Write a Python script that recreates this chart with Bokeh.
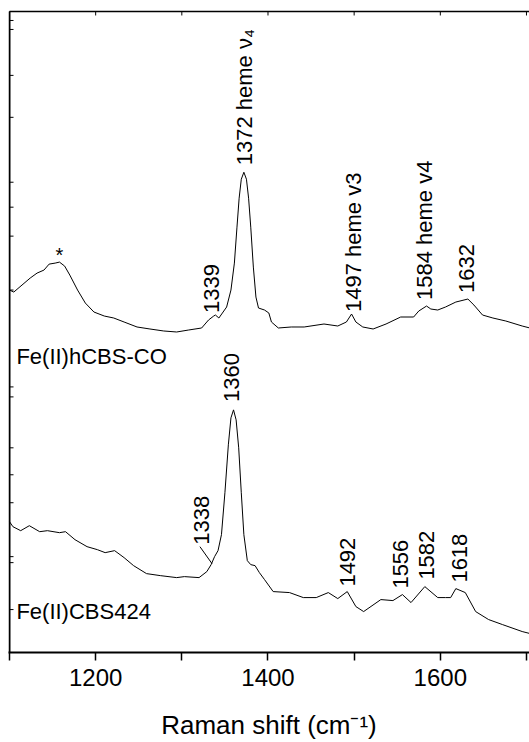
import numpy as np
from bokeh.plotting import figure
from bokeh.models import Range1d, FixedTicker
from bokeh.core.properties import value
from bokeh.embed import file_html
from bokeh.resources import INLINE

# Fe(II)hCBS-CO resonance Raman spectrum (offset, arbitrary intensity units)
co_shift = [1100, 1105, 1124, 1132, 1140, 1146, 1153, 1158, 1164, 1170, 1179, 1188,
            1198, 1210, 1221, 1233, 1248, 1263, 1279, 1294, 1308, 1323, 1331, 1337,
            1339, 1343, 1352, 1357, 1361, 1364, 1366.5, 1369, 1372, 1375, 1377.5,
            1380, 1383, 1386, 1389, 1396, 1401, 1404, 1412, 1427, 1442, 1465, 1481,
            1491, 1497, 1502, 1510, 1522, 1537, 1554, 1569, 1575, 1584, 1589, 1597,
            1606, 1618, 1632, 1639, 1649, 1661, 1676, 1695, 1704]
co_intensity = [363, 361, 375, 380, 383, 389, 390, 391, 387, 378, 363, 350,
                341, 337, 335, 331, 326, 324, 322, 321, 323, 325, 333, 337,
                338, 335, 346, 363, 390, 426, 455, 474, 481, 474, 455,
                426, 386, 356, 345, 343, 340, 331, 325, 326, 326, 329, 327,
                331, 339, 331, 326, 324, 329, 336, 336, 342, 347, 344, 343,
                346, 351, 354, 348, 338, 335, 332, 327, 325]

# Fe(II)CBS424 resonance Raman spectrum
cbs_shift = [1100, 1104, 1113, 1123, 1135, 1144, 1158, 1165, 1176, 1190, 1202, 1211,
             1222, 1233, 1244, 1259, 1275, 1294, 1303, 1320, 1329, 1334, 1338, 1342,
             1346, 1350, 1354, 1357, 1360, 1363, 1366, 1369, 1372, 1376, 1380, 1385,
             1390, 1396, 1406, 1425, 1441, 1456, 1470, 1481, 1492, 1502, 1511, 1531,
             1545, 1556, 1566, 1582, 1597, 1606, 1612, 1618, 1629, 1641, 1656, 1672,
             1695, 1704]
cbs_intensity = [131, 126, 122, 127, 121, 122, 120, 121, 113, 106, 103, 100,
                 102, 95, 87, 79, 77, 75, 76, 75, 81, 88, 96, 102,
                 118, 160, 208, 235, 243, 233, 205, 160, 118, 92, 88, 87,
                 80, 73, 61, 60, 55, 55, 60, 54, 61, 46, 41, 53,
                 52, 58, 50, 66, 55, 55, 55, 64, 60, 41, 33, 28,
                 21, 19]

# Peak labels: text, centre shift, intensity where the rotated text starts
co_labels = ["1339", "1372 heme \u03bd\u2084", "1497 heme v3", "1584 heme v4", "1632"]
co_label_x = [1334.7, 1372.8, 1498.8, 1581.5, 1630.6]
co_label_y = [340, 488, 341, 353, 360]

cbs_labels = ["1338", "1360", "1492", "1556", "1582", "1618"]
cbs_label_x = [1322.5, 1357.8, 1492.5, 1554.3, 1584.4, 1621.9]
cbs_label_y = [108, 251, 66, 64, 73, 70]

# Leader line from the 1338 label to its shoulder
leader_x0, leader_y0 = [1321.0], [106]
leader_x1, leader_y1 = [1335.0], [89]

trace_names = ["Fe(II)hCBS-CO", "Fe(II)CBS424"]
trace_name_x = [1108, 1108]
trace_name_y = [296, 41]

star_x, star_y = [1158], [398]

# axis box: shift 1100-1700 cm-1, intensity 0-642; the view keeps a small margin
X_LEFT, X_RIGHT = 1100, 1703.5
Y_BOTTOM, Y_TOP = 0, 642
PX_PER_X = 520.0 / (X_RIGHT - X_LEFT)
VIEW_X = (X_LEFT - 1.0 / PX_PER_X, X_RIGHT)
VIEW_Y = (Y_BOTTOM, Y_TOP + 11)

bottom_ticks = [1200, 1400, 1600]
minor_ticks = [1100, 1300, 1500, 1700]
top_ticks = [1100, 1200, 1300, 1400, 1500, 1600, 1700]
left_ticks = [633, 624, 578, 536, 471, 446, 417, 363, 266, 256, 205, 178, 150, 96, 90, 43]

FONT = "Liberation Sans"

p = figure(width=529, height=742, output_backend="svg", toolbar_location=None,
           x_range=Range1d(*VIEW_X), y_range=Range1d(*VIEW_Y),
           min_border_left=8, min_border_right=0, min_border_top=0,
           min_border_bottom=89)
p.title.visible = False
p.outline_line_color = None
p.background_fill_color = "white"
p.border_fill_color = "white"
p.xgrid.visible = False
p.ygrid.visible = False
p.yaxis.visible = False

# bottom axis
xa = p.xaxis[0]
xa.ticker = FixedTicker(ticks=bottom_ticks, minor_ticks=minor_ticks)
xa.axis_line_width = 2
xa.major_tick_in = 0
xa.major_tick_out = 8
xa.minor_tick_in = 0
xa.minor_tick_out = 8
xa.major_tick_line_width = 1.5
xa.minor_tick_line_width = 1.5
xa.major_label_text_font = FONT
xa.major_label_text_font_size = "24px"
xa.major_label_text_color = "black"
xa.major_label_standoff = 8
xa.axis_label = "Raman shift (cm\u207b\u00b9)"
xa.axis_label_text_font = FONT
xa.axis_label_text_font_size = "26px"
xa.axis_label_text_font_style = "normal"
xa.axis_label_text_color = "black"
xa.axis_label_standoff = 21

# left and top box lines
p.segment(x0=[X_LEFT], y0=[Y_BOTTOM], x1=[X_LEFT], y1=[Y_TOP],
          line_color="black", line_width=2)
p.segment(x0=[X_LEFT], y0=[Y_TOP], x1=[X_RIGHT], y1=[Y_TOP],
          line_color="black", line_width=1.5)

# short inward ticks on the left and top box lines
p.segment(x0=[X_LEFT] * len(left_ticks), y0=left_ticks,
          x1=[X_LEFT + 4 / PX_PER_X] * len(left_ticks), y1=left_ticks,
          line_color="black", line_width=1)
p.segment(x0=top_ticks, y0=[Y_TOP] * len(top_ticks),
          x1=top_ticks, y1=[Y_TOP - 4] * len(top_ticks),
          line_color="black", line_width=1)

# spectra
p.line(co_shift, co_intensity, line_color="black", line_width=1)
p.line(cbs_shift, cbs_intensity, line_color="black", line_width=1)

# rotated peak labels
p.text(x=co_label_x, y=co_label_y, text=co_labels, angle=np.pi / 2,
       text_align="left", text_baseline="middle", text_color="black",
       text_font=value(FONT), text_font_size=value("22px"))
p.text(x=cbs_label_x, y=cbs_label_y, text=cbs_labels, angle=np.pi / 2,
       text_align="left", text_baseline="middle", text_color="black",
       text_font=value(FONT), text_font_size=value("22px"))
p.segment(x0=leader_x0, y0=leader_y0, x1=leader_x1, y1=leader_y1,
          line_color="black", line_width=1)

# trace names
p.text(x=trace_name_x, y=trace_name_y, text=trace_names,
       text_align="left", text_baseline="alphabetic", text_color="black",
       text_font=value(FONT), text_font_size=value("22px"))

# asterisk over the broad band
p.text(x=star_x, y=star_y, text=["*"], text_align="center", text_baseline="middle",
       text_color="black", text_font=value(FONT), text_font_size=value("20px"))

open("out.html", "w").write(file_html(p, INLINE))
